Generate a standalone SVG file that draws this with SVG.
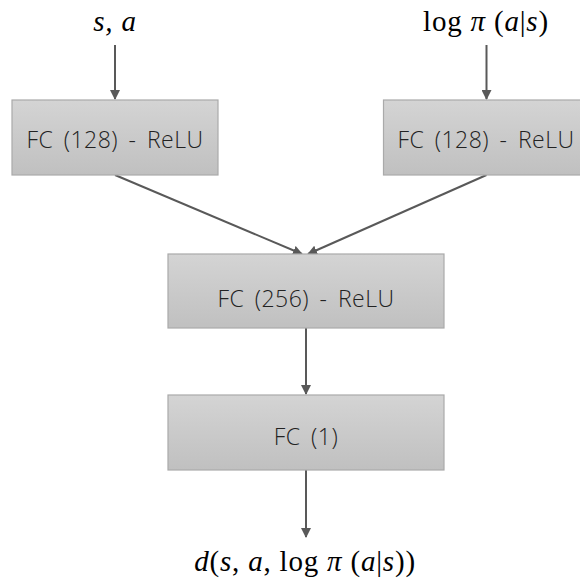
<svg xmlns="http://www.w3.org/2000/svg" width="580" height="578" viewBox="0 0 580 578">
<defs>
<linearGradient id="g" x1="0" y1="0" x2="0" y2="1">
<stop offset="0" stop-color="#d4d4d4"/>
<stop offset="1" stop-color="#c0c0c0"/>
</linearGradient>
<marker id="ah" markerWidth="10" markerHeight="10" refX="9" refY="5" orient="auto" markerUnits="userSpaceOnUse">
<path d="M0,0 L10,5 L0,10 z" fill="#595959"/>
</marker>
<style>
.box{fill:url(#g);stroke:#aaaaaa;stroke-width:1.2}
.lbl{font-family:"Open Sans","Noto Sans",sans-serif;font-weight:300;font-size:23px;letter-spacing:0.5px;word-spacing:4px;fill:#222;text-anchor:middle}
.math{font-family:"Liberation Serif",serif;font-size:29px;letter-spacing:0.8px;fill:#000;text-anchor:middle}
.it{font-style:italic}
.edge{stroke:#595959;stroke-width:2;fill:none;marker-end:url(#ah)}
</style>
</defs>
<g id="edges">
<line class="edge" x1="115" y1="45" x2="115" y2="99"/>
<line class="edge" x1="486.5" y1="45" x2="486.5" y2="99"/>
<line class="edge" x1="115" y1="175" x2="302" y2="254"/>
<line class="edge" x1="486.5" y1="175" x2="308" y2="254"/>
<line class="edge" x1="306" y1="328" x2="306" y2="394"/>
<line class="edge" x1="306" y1="470" x2="306" y2="537"/>
</g>
<g id="in1"><text class="math it" x="115" y="31">s, a</text></g>
<g id="in2"><text class="math" x="486" y="31">log <tspan class="it">π</tspan> (<tspan class="it">a</tspan>|<tspan class="it">s</tspan>)</text></g>
<g id="fc1"><rect class="box" x="12" y="100" width="206" height="75"/><text class="lbl" x="115" y="148">FC (128) - ReLU</text></g>
<g id="fc2"><rect class="box" x="383.5" y="100" width="206" height="75"/><text class="lbl" x="486" y="148">FC (128) - ReLU</text></g>
<g id="fc3"><rect class="box" x="168" y="254" width="276" height="74"/><text class="lbl" x="306" y="307">FC (256) - ReLU</text></g>
<g id="fc4"><rect class="box" x="168" y="395" width="276" height="75"/><text class="lbl" x="306" y="445">FC (1)</text></g>
<g id="out"><text class="math" x="305" y="571"><tspan class="it">d</tspan>(<tspan class="it">s</tspan>, <tspan class="it">a</tspan>, log <tspan class="it">π</tspan> (<tspan class="it">a</tspan>|<tspan class="it">s</tspan>))</text></g>
</svg>
